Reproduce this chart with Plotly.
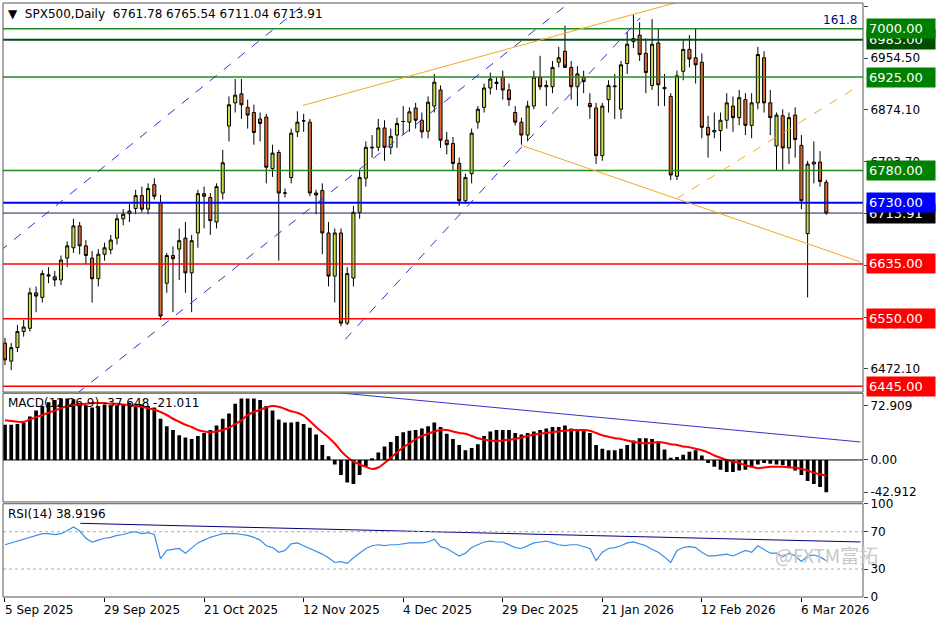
import plotly.graph_objects as go

# SPX500 daily candles (index 0 = 5 Sep 2025)
opens = [6512, 6484, 6505, 6530, 6535, 6590, 6583, 6616, 6615, 6610, 6644, 6660, 6694, 6663, 6644, 6612, 6650, 6657, 6675, 6705,
         6713, 6721, 6741, 6720, 6758, 6730, 6605, 6648, 6658, 6675, 6621, 6683, 6744, 6738, 6700, 6745, 6849, 6885, 6899, 6878,
         6870, 6860, 6863, 6783, 6808, 6745, 6769, 6840, 6857, 6855, 6745, 6749, 6683, 6616, 6683, 6543, 6613, 6715, 6768, 6815,
         6816, 6846, 6816, 6835, 6856, 6855, 6877, 6858, 6841, 6880, 6905, 6827, 6822, 6791, 6733, 6775, 6855, 6878, 6908, 6915,
         6925, 6905, 6870, 6855, 6835, 6880, 6925, 6910, 6910, 6948, 6965, 6940, 6910, 6925, 6884, 6877, 6803, 6890, 6910, 6875,
         6946, 6980, 6990, 6962, 6912, 6978, 6909, 6895, 6771, 6934, 6968, 6955, 6948, 6847, 6840, 6842, 6858, 6880, 6862, 6890,
         6850, 6885, 6955, 6885, 6818, 6865, 6815, 6866, 6819, 6682, 6790, 6793, 6761.78]
highs = [6520, 6512, 6540, 6548, 6598, 6600, 6625, 6630, 6624, 6648, 6670, 6705, 6700, 6672, 6655, 6658, 6668, 6680, 6712, 6720,
         6728, 6750, 6755, 6760, 6768, 6742, 6652, 6662, 6690, 6700, 6680, 6750, 6755, 6745, 6760, 6812, 6895, 6922, 6922, 6890,
         6882, 6870, 6868, 6820, 6812, 6752, 6845, 6872, 6868, 6860, 6750, 6760, 6700, 6690, 6690, 6630, 6725, 6780, 6825, 6835,
         6860, 6858, 6845, 6862, 6880, 6878, 6885, 6870, 6895, 6930, 6912, 6840, 6832, 6800, 6775, 6845, 6880, 6915, 6932, 6925,
         6935, 6915, 6880, 6862, 6888, 6935, 6958, 6920, 6950, 6972, 7005, 6950, 6942, 6935, 6900, 6885, 6885, 6920, 6930, 6950,
         6995, 7022, 7010, 6985, 7015, 7000, 6930, 6900, 6935, 6982, 6990, 7000, 6962, 6865, 6870, 6870, 6900, 6895, 6905, 6900,
         6900, 6972, 6965, 6905, 6870, 6875, 6870, 6878, 6835, 6795, 6825, 6810, 6765.54]
lows = [6478, 6470, 6498, 6522, 6530, 6560, 6575, 6605, 6600, 6602, 6630, 6652, 6650, 6635, 6575, 6600, 6640, 6650, 6665, 6695,
        6700, 6712, 6715, 6712, 6735, 6548, 6590, 6560, 6610, 6590, 6560, 6660, 6690, 6680, 6690, 6735, 6825, 6870, 6860, 6845,
        6820, 6825, 6760, 6770, 6640, 6738, 6760, 6832, 6840, 6740, 6712, 6650, 6600, 6575, 6538, 6540, 6600, 6705, 6755, 6800,
        6810, 6795, 6805, 6815, 6835, 6840, 6845, 6830, 6830, 6870, 6815, 6805, 6780, 6725, 6728, 6760, 6845, 6870, 6898, 6905,
        6890, 6880, 6850, 6820, 6825, 6875, 6905, 6880, 6900, 6940, 6945, 6890, 6880, 6900, 6860, 6790, 6795, 6870, 6860, 6860,
        6930, 6970, 6950, 6900, 6905, 6880, 6880, 6765, 6765, 6920, 6940, 6915, 6830, 6800, 6830, 6810, 6845, 6840, 6850, 6835,
        6830, 6875, 6870, 6835, 6780, 6780, 6790, 6800, 6720, 6583, 6760, 6755, 6711.04]
closes = [6486, 6505, 6530, 6537, 6590, 6585, 6620, 6618, 6610, 6641, 6663, 6694, 6663, 6648, 6612, 6650, 6660, 6672, 6705, 6712,
          6717, 6741, 6720, 6752, 6740, 6554, 6648, 6643, 6671, 6621, 6671, 6744, 6740, 6702, 6755, 6792, 6882, 6897, 6882, 6866,
          6839, 6853, 6785, 6807, 6745, 6745, 6838, 6855, 6857, 6745, 6742, 6683, 6616, 6683, 6543, 6620, 6715, 6769, 6816, 6816,
          6846, 6816, 6833, 6853, 6856, 6871, 6858, 6840, 6886, 6917, 6827, 6820, 6791, 6733, 6769, 6838, 6875, 6908, 6922, 6917,
          6905, 6890, 6855, 6835, 6880, 6925, 6910, 6912, 6940, 6955, 6940, 6910, 6930, 6918, 6879, 6803, 6880, 6912, 6911, 6944,
          6976, 6985, 6960, 6932, 6976, 6913, 6907, 6773, 6927, 6968, 6953, 6944, 6847, 6835, 6842, 6858, 6885, 6862, 6893, 6850,
          6885, 6960, 6885, 6862, 6866, 6815, 6862, 6828, 6733, 6790, 6793, 6763, 6713.91]

macd_main = [47, 47, 48, 50, 58, 66, 72, 77, 80, 82, 82, 81, 76, 73, 70, 72, 74, 73, 73, 74,
             76, 75, 74, 72, 70, 55, 45, 40, 33, 30, 28, 32, 36, 40, 46, 55, 62, 75, 82, 82,
             82, 80, 72, 66, 54, 50, 50, 51, 48, 43, 34, 20, 5, -6, -20, -30, -32, -20, -8, 1,
             10, 18, 24, 32, 37, 39, 40, 42, 45, 50, 44, 35, 28, 20, 13, 16, 21, 32, 38, 40,
             40, 40, 36, 34, 36, 38, 40, 42, 44, 44, 46, 42, 40, 40, 36, 20, 15, 13, 13, 15,
             20, 26, 29, 29, 28, 25, 14, 3, 4, 7, 11, 13, 6, -4, -9, -13, -16, -16, -14, -13,
             -10, -6, -4, -5, -6, -7, -9, -14, -20, -28, -32, -36, -42.9]
macd_signal = [53, 52, 51, 51, 54, 57, 60, 63, 66, 69, 72, 73, 74, 75, 76, 76, 76, 75, 75, 74,
               73, 72, 71, 69, 67, 64, 60, 55, 51, 47, 44, 40, 38, 37, 38, 40, 43, 48, 53, 60,
               64, 67, 70, 72, 71, 68, 65, 63, 59, 52, 44, 37, 30, 22, 12, 4, -2, -6, -9, -12,
               -10, -4, 3, 10, 17, 22, 28, 32, 35, 38, 40, 40, 38, 36, 35, 32, 29, 27, 26, 25,
               26, 27, 28, 30, 32, 34, 35, 36, 37, 38, 39, 40, 40, 40, 39, 36, 33, 31, 29, 28,
               26, 24, 23, 22, 23, 24, 23, 21, 20, 18, 17, 15, 13, 10, 6, 3, 0, -2, -4, -7,
               -9, -11, -10, -9, -9, -9, -10, -10, -12, -14, -17, -19, -21]
rsi = [56, 58, 60, 62, 64, 66, 68, 68, 67, 68, 71, 75, 71, 63, 59, 61, 63, 64, 66, 67,
       69, 70, 68, 69, 67, 41, 50, 51, 52, 47, 52, 58, 61, 64, 66, 68, 68, 68, 67, 66,
       64, 61, 55, 53, 48, 50, 57, 58, 55, 52, 49, 46, 42, 37, 38, 36, 42, 47, 52, 55,
       56, 55, 56, 56, 57, 58, 58, 58, 59, 62, 54, 52, 48, 44, 47, 53, 56, 59, 60, 59,
       59, 56, 53, 52, 55, 58, 59, 60, 58, 56, 55, 56, 56, 54, 52, 39, 48, 52, 53, 55,
       58, 59, 57, 55, 51, 48, 43, 37, 50, 53, 54, 53, 48, 44, 44, 45, 46, 44, 47, 50,
       48, 55, 51, 47, 47, 43, 47, 44, 38, 44, 45, 43, 38.9]

date_idx = [0, 16, 32, 48, 64, 80, 96, 112, 128]
date_labels = ["5 Sep 2025", "29 Sep 2025", "21 Oct 2025", "12 Nov 2025", "4 Dec 2025",
               "29 Dec 2025", "21 Jan 2026", "12 Feb 2026", "6 Mar 2026"]

levels = [7000, 6983, 6925, 6780, 6730, 6713.91, 6635, 6550, 6445]
level_colors = ["#008000", "#004d00", "#008000", "#008000", "#0000ff", "#000000", "#ff0000", "#ff0000", "#ff0000"]
line_colors = ["#1f8a1f", "#004d1a", "#1f8a1f", "#1f8a1f", "#0000ff", "#202060", "#ff0000", "#ff0000", "#ff0000"]
label_order = [1, 0, 2, 3, 5, 4, 6, 7, 8]   # boxes drawn later sit on top

price_ticks = [7034.9, 6954.5, 6874.1, 6793.7, 6713.3, 6632.9, 6552.5, 6472.1]

x = list(range(len(closes)))
FONT = "DejaVu Sans"
XR = [-0.32, 137.9]

fig = go.Figure()
fig.add_trace(go.Candlestick(
    x=x, open=opens, high=highs, low=lows, close=closes,
    increasing=dict(line=dict(color="black", width=1), fillcolor="#c9dc4c"),
    decreasing=dict(line=dict(color="black", width=1), fillcolor="#db6a2c"),
    whiskerwidth=0, showlegend=False, hoverinfo="skip", xaxis="x", yaxis="y"))

fig.add_trace(go.Bar(x=x, y=macd_main, marker_color="black", marker_line_width=0, width=0.6,
                     showlegend=False, xaxis="x", yaxis="y2"))
fig.add_trace(go.Scatter(x=x, y=macd_signal, mode="lines", line=dict(color="#ff0000", width=2, shape="spline"),
                         showlegend=False, xaxis="x", yaxis="y2"))
fig.add_trace(go.Scatter(x=x, y=rsi, mode="lines", line=dict(color="#3a8ee6", width=1.2),
                         showlegend=False, xaxis="x", yaxis="y3"))

shapes = []
for lv, lc in zip(levels, line_colors):
    w = 1 if lv == 6713.91 else 2 if lv in (6983, 6730) else 1.5
    shapes.append(dict(type="line", xref="x domain", x0=0, x1=1, yref="y", y0=lv, y1=lv,
                       line=dict(color=lc, width=w)))

# drawn trend lines
def seg(x0, y0, x1, y1, color, dash="solid", yref="y", width=1):
    shapes.append(dict(type="line", xref="x", yref=yref, x0=x0, y0=y0, x1=x1, y1=y1,
                       line=dict(color=color, width=width, dash=dash)))

seg(-0.8, 6655, 49, 7045, "#3333cc", "dash")
seg(11.6, 6434, 91.3, 7045, "#3333cc", "dash")
seg(54.7, 6518, 102.1, 7017, "#3333cc", "dash")
seg(47.9, 6881, 109.5, 7045, "#f5a623")
seg(83.0, 6819, 137.5, 6638, "#f5a623")
seg(107.9, 6736, 137.5, 6913, "#f5a623", "dash")
seg(53.1, 90, 137.5, 24, "#3333cc", yref="y2")
seg(12.1, 79, 137.5, 59, "#000080", yref="y3")
shapes.append(dict(type="line", xref="x domain", x0=0, x1=1, yref="y2", y0=0, y1=0, line=dict(color="black", width=1)))
for lv in (70, 30):
    shapes.append(dict(type="line", xref="x domain", x0=0, x1=1, yref="y3", y0=lv, y1=lv,
                       line=dict(color="#aaaaaa", width=1, dash="dot")))
# pane frames
for d in ([0.345, 1.0], [0.16, 0.343], [0.0, 0.157]):
    shapes.append(dict(type="rect", xref="paper", yref="paper", x0=0, x1=1, y0=d[0], y1=d[1],
                       line=dict(color="#555555", width=1), fillcolor="rgba(0,0,0,0)"))

ann = []
for k in label_order:
    lv, bc = levels[k], level_colors[k]
    ann.append(dict(xref="paper", x=1.004, xanchor="left", yref="y", y=lv, text=f"{lv:.2f}",
                    showarrow=False, bgcolor=bc, font=dict(color="white", size=13, family=FONT),
                    borderpad=2, width=64, align="left"))
ann.append(dict(xref="paper", x=0.995, xanchor="right", yref="y", y=7000, yanchor="bottom", text="161.8",
                showarrow=False, font=dict(color="#000080", size=12, family=FONT)))
ann.append(dict(xref="paper", x=0.004, xanchor="left", yref="paper", y=0.997, yanchor="top",
                text="▼  SPX500,Daily  6761.78 6765.54 6711.04 6713.91", showarrow=False,
                font=dict(color="black", size=12, family=FONT)))
ann.append(dict(xref="paper", x=0.004, xanchor="left", yref="paper", y=0.341, yanchor="top",
                text="MACD(12,26,9) -37.648 -21.011", showarrow=False, font=dict(color="black", size=12, family=FONT)))
ann.append(dict(xref="paper", x=0.004, xanchor="left", yref="paper", y=0.155, yanchor="top",
                text="RSI(14) 38.9196", showarrow=False, font=dict(color="black", size=12, family=FONT)))
ann.append(dict(xref="paper", x=1.02, xanchor="right", yref="paper", y=0.045, text="@FXTM富拓",
                showarrow=False, font=dict(color="#c8c8c8", size=19, family="Noto Sans CJK SC")))
for i, t in zip(date_idx, date_labels):
    px = (i - 0.4 - XR[0]) / (XR[1] - XR[0])
    ann.append(dict(xref="paper", x=max(px, 0), xanchor="left", yref="paper", y=-0.006, yanchor="top", text=t,
                    showarrow=False, font=dict(color="black", size=12, family=FONT)))

axis_font = dict(color="black", size=11, family=FONT)
fig.update_layout(
    width=936, height=624, margin=dict(l=3, r=73, t=3, b=27, autoexpand=False),
    paper_bgcolor="white", plot_bgcolor="white", font=axis_font,
    shapes=shapes, annotations=ann, bargap=0.3,
    xaxis=dict(range=XR, anchor="y3", showgrid=False, zeroline=False, rangeslider=dict(visible=False),
               tickvals=date_idx, showticklabels=False, ticks="outside", ticklen=4, tickcolor="black",
               automargin=False),
    yaxis=dict(domain=[0.345, 1.0], range=[6436, 7040], side="right", showgrid=False, zeroline=False,
               tickvals=price_ticks, ticktext=[f"{v:.2f}" for v in price_ticks], ticks="outside",
               ticklen=4, tickfont=dict(size=12, family=FONT), automargin=False),
    yaxis2=dict(domain=[0.16, 0.343], range=[-56, 89], side="right", showgrid=False, zeroline=False,
                tickvals=[72.909, 0, -42.912], ticktext=["72.909", "0.00", "-42.912"], ticks="outside",
                ticklen=4, tickfont=dict(size=12, family=FONT), automargin=False),
    yaxis3=dict(domain=[0.0, 0.157], range=[0, 100], side="right", showgrid=False, zeroline=False,
                tickvals=[100, 70, 30, 0], ticks="outside", ticklen=4, tickfont=dict(size=12, family=FONT),
                automargin=False),
)

fig.write_html("out.html", config={"displayModeBar": False},
               post_script="document.body.style.margin='0';")
